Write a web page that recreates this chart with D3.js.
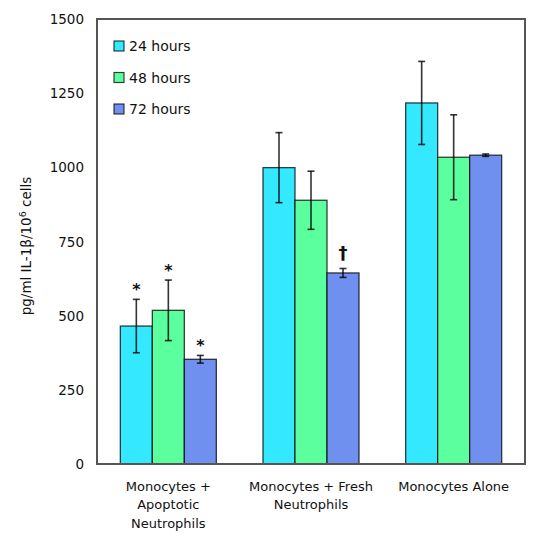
<!DOCTYPE html>
<html><head><meta charset="utf-8">
<script src="https://cdn.jsdelivr.net/npm/d3@7"></script>
<style>body{margin:0;background:#fff;} text{font-family:"DejaVu Sans",sans-serif;fill:#111;}</style>
</head><body><svg id="c" width="537" height="543"></svg>
<script>
const categories = [["Monocytes +","Apoptotic","Neutrophils"],["Monocytes + Fresh","Neutrophils"],["Monocytes Alone"]];
const seriesNames = ["24 hours","48 hours","72 hours"];
const colors = ["#33e8ff","#5cff9e","#7090ef"];
const values = [[465,518,353],[999,889,644],[1217,1034,1041]];
const errors = [[90,102,13],[118,98,15],[140,143,4]];
const marks = [["*","*","*"],["","","†"],["","",""]];
const yTicks = [0,250,500,750,1000,1250,1500];

const svg = d3.select("#c");
const L=97,R=525,T=19,B=464;
const x = d3.scaleBand().domain(d3.range(categories.length)).range([L,R]).paddingInner(0.327).paddingOuter(0.1635);
const xs = d3.scaleBand().domain(d3.range(seriesNames.length)).range([0,x.bandwidth()]);
const y = d3.scaleLinear().domain([0,1500]).range([B,T]);

// y tick labels
svg.append("g").selectAll("text").data(yTicks).join("text")
  .attr("x",84).attr("y",d=>y(d)+5).attr("text-anchor","end").attr("font-size",13.5).text(d=>d);

// bars
const g = svg.append("g");
categories.forEach((c,i)=>{
  seriesNames.forEach((s,j)=>{
    const v=values[i][j], e=errors[i][j];
    const bx=x(i)+xs(j), bw=xs.bandwidth();
    g.append("rect").attr("x",bx).attr("y",y(v)).attr("width",bw).attr("height",y(0)-y(v))
      .attr("fill",colors[j]).attr("stroke","#000").attr("stroke-opacity",0.75).attr("stroke-width",1.3);
    const cx=bx+bw/2;
    const eg=g.append("g").attr("stroke","#000").attr("stroke-opacity",0.8).attr("stroke-width",1.6);
    eg.append("line").attr("x1",cx).attr("x2",cx).attr("y1",y(v+e)).attr("y2",y(v-e));
    eg.append("line").attr("x1",cx-3.5).attr("x2",cx+3.5).attr("y1",y(v+e)).attr("y2",y(v+e));
    eg.append("line").attr("x1",cx-3.5).attr("x2",cx+3.5).attr("y1",y(v-e)).attr("y2",y(v-e));
    if(marks[i][j]){
      const m=marks[i][j];
      g.append("text").attr("x",cx).attr("y",m==="*"?y(v+e)-4:y(v+e)-9).attr("text-anchor","middle")
        .attr("font-size",m==="*"?16:18).attr("font-weight","bold").text(m);
    }
  });
});

// frame
svg.append("rect").attr("x",L).attr("y",T).attr("width",R-L).attr("height",B-T)
  .attr("fill","none").attr("stroke","#555").attr("stroke-width",2);

// x labels
categories.forEach((lines,i)=>{
  const t=svg.append("text").attr("text-anchor","middle").attr("font-size",13);
  lines.forEach((ln,k)=>t.append("tspan").attr("x",x(i)+x.bandwidth()/2).attr("y",491+k*18.3).text(ln));
});

// y label
const yl=svg.append("text").attr("transform","translate(31,246) rotate(-90)").attr("text-anchor","middle").attr("font-size",13.5);
yl.append("tspan").text("pg/ml IL-1β/10");
yl.append("tspan").attr("font-size",9.5).attr("dy",-5).text("6");
yl.append("tspan").attr("dy",5).text(" cells");

// legend
seriesNames.forEach((s,j)=>{
  const ly=41+j*31.5;
  svg.append("rect").attr("x",114).attr("y",ly).attr("width",10).attr("height",10)
    .attr("fill",colors[j]).attr("stroke","#000").attr("stroke-opacity",0.75).attr("stroke-width",1.2);
  svg.append("text").attr("x",129).attr("y",ly+10).attr("font-size",14).text(s);
});
</script></body></html>
